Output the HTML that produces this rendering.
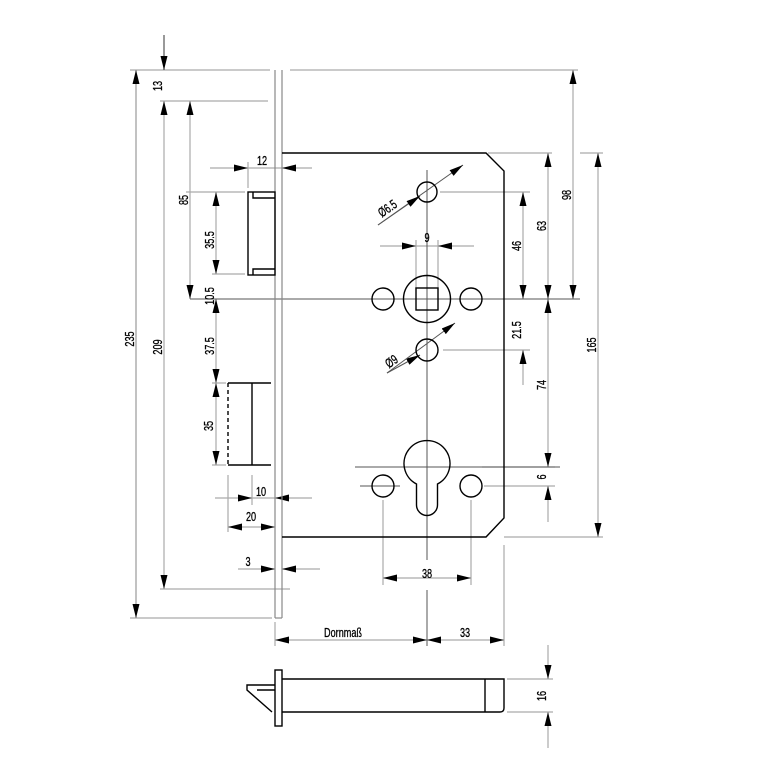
<!DOCTYPE html>
<html><head><meta charset="utf-8"><style>
html,body{margin:0;padding:0;background:#fff;}
svg{display:block}
text{font-family:"Liberation Sans",sans-serif;font-size:13px;fill:#000;stroke:#000;stroke-width:0.3;}
</style></head><body>
<svg width="768" height="768" viewBox="0 0 768 768" xmlns="http://www.w3.org/2000/svg">
<defs>
<marker id="a" viewBox="0 0 14 7" refX="14" refY="3.5" markerWidth="14" markerHeight="7" markerUnits="userSpaceOnUse" orient="auto-start-reverse">
<path d="M0,0 L14,3.5 L0,7 Z" fill="#000"/>
</marker>
</defs>
<g fill="none" stroke="#aaa" stroke-width="1.2">
<line x1="130" y1="70" x2="270" y2="70"/><line x1="290" y1="70" x2="578" y2="70"/>
<line x1="160" y1="101" x2="268" y2="101"/>
<line x1="130" y1="618" x2="272" y2="618"/>
<line x1="160" y1="589" x2="290" y2="589"/>
<line x1="186" y1="192" x2="245" y2="192"/>
<line x1="212" y1="274" x2="245" y2="274"/>
<line x1="212" y1="383" x2="226" y2="383"/>
<line x1="212" y1="465" x2="226" y2="465"/>
<line x1="488" y1="153" x2="552" y2="153"/><line x1="580" y1="153" x2="603" y2="153"/>
<line x1="440" y1="192" x2="530" y2="192"/>
<line x1="443" y1="350" x2="530" y2="350"/>
<line x1="504" y1="537" x2="603" y2="537"/>
<line x1="482" y1="467" x2="555" y2="467"/>
<line x1="484" y1="486" x2="555" y2="486"/>
<line x1="507" y1="679" x2="553" y2="679"/>
<line x1="507" y1="712" x2="553" y2="712"/>
<line x1="228" y1="475" x2="228" y2="532"/>
<line x1="252" y1="475" x2="252" y2="505"/>
<line x1="248" y1="162" x2="248" y2="188"/>
<line x1="383" y1="500" x2="383" y2="585"/>
<line x1="471" y1="500" x2="471" y2="585"/>
<line x1="416" y1="240" x2="416" y2="290"/>
<line x1="438" y1="240" x2="438" y2="290"/>
<line x1="275" y1="622" x2="275" y2="646"/>
<line x1="504" y1="545" x2="504" y2="646"/>
<line x1="136" y1="70" x2="136" y2="618" marker-start="url(#a)" marker-end="url(#a)" stroke="#999"/>
<line x1="164" y1="35" x2="164" y2="70" marker-end="url(#a)" stroke="#555"/>
<line x1="164" y1="101" x2="164" y2="589" marker-start="url(#a)" marker-end="url(#a)"/>
<line x1="190" y1="101" x2="190" y2="299" marker-start="url(#a)" marker-end="url(#a)"/>
<line x1="216" y1="192" x2="216" y2="274" marker-start="url(#a)" marker-end="url(#a)"/>
<line x1="216" y1="299" x2="216" y2="383" marker-start="url(#a)" marker-end="url(#a)"/>
<line x1="216" y1="383" x2="216" y2="465" marker-start="url(#a)" marker-end="url(#a)"/>
<line x1="210" y1="168" x2="248" y2="168" marker-end="url(#a)"/>
<line x1="248" y1="168" x2="282" y2="168"/>
<line x1="282" y1="168" x2="312" y2="168" marker-start="url(#a)"/>
<line x1="215" y1="498" x2="252" y2="498" marker-end="url(#a)"/>
<line x1="252" y1="498" x2="275" y2="498"/>
<line x1="275" y1="498" x2="312" y2="498" marker-start="url(#a)"/>
<line x1="228" y1="527" x2="275" y2="527" marker-start="url(#a)" marker-end="url(#a)"/>
<line x1="238" y1="569" x2="275" y2="569" marker-end="url(#a)"/>
<line x1="282" y1="569" x2="320" y2="569" marker-start="url(#a)"/>
<line x1="573" y1="70" x2="573" y2="299" marker-start="url(#a)" marker-end="url(#a)"/>
<line x1="598" y1="153" x2="598" y2="537" marker-start="url(#a)" marker-end="url(#a)"/>
<line x1="548" y1="153" x2="548" y2="299" marker-start="url(#a)" marker-end="url(#a)"/>
<line x1="548" y1="299" x2="548" y2="467" marker-start="url(#a)" marker-end="url(#a)"/>
<line x1="548" y1="486" x2="548" y2="522" marker-start="url(#a)"/>
<line x1="523" y1="192" x2="523" y2="299" marker-start="url(#a)" marker-end="url(#a)"/>
<line x1="523" y1="350" x2="523" y2="385" marker-start="url(#a)"/>
<line x1="548" y1="645" x2="548" y2="679" marker-end="url(#a)"/>
<line x1="548" y1="712" x2="548" y2="748" marker-start="url(#a)"/>
<line x1="380" y1="246" x2="416" y2="246" marker-end="url(#a)"/>
<line x1="416" y1="246" x2="438" y2="246"/>
<line x1="438" y1="246" x2="474" y2="246" marker-start="url(#a)"/>
<line x1="383" y1="578" x2="471" y2="578" marker-start="url(#a)" marker-end="url(#a)"/>
<line x1="275" y1="640" x2="427" y2="640" marker-start="url(#a)" marker-end="url(#a)"/>
<line x1="427" y1="640" x2="504" y2="640" marker-start="url(#a)" marker-end="url(#a)"/>
</g>
<g stroke="#555" stroke-width="1" fill="none">
<line x1="427" y1="170" x2="427" y2="560"/>
<line x1="427" y1="590" x2="427" y2="646"/>
<line x1="190" y1="299" x2="580" y2="299"/>
<line x1="355" y1="467" x2="560" y2="467"/>
<line x1="360" y1="486" x2="400" y2="486"/>
<line x1="378" y1="225" x2="463" y2="165" marker-end="url(#a)"/>
<line x1="378" y1="225" x2="420" y2="196" marker-end="url(#a)"/>
<line x1="387" y1="373" x2="420" y2="355" marker-end="url(#a)"/>
<line x1="387" y1="373" x2="455" y2="323" marker-end="url(#a)"/>
</g>
<g stroke="#888" stroke-width="1.2" fill="none">
<line x1="275" y1="70" x2="275" y2="618"/>
<line x1="282" y1="70" x2="282" y2="618"/>
<line x1="275" y1="618" x2="282" y2="618"/>
</g>
<g stroke="#000" stroke-width="1.4" fill="none">
<path d="M282,153 L486,153 L504,171 L504,518 L486,537 L282,537"/>
<circle cx="427" cy="299" r="23.5"/>
<rect x="416" y="288" width="22" height="22"/>
<circle cx="383" cy="299" r="11"/>
<circle cx="471" cy="299" r="11"/>
<circle cx="427" cy="192" r="10"/>
<circle cx="427" cy="350" r="11"/>
<path d="M416.5,484 A23,23 0 1 1 437.5,484 L437.5,505 A10.5,10.5 0 0 1 416.5,505 Z"/>
<circle cx="383" cy="486" r="11"/>
<circle cx="471" cy="486" r="11"/>
<rect x="248" y="192" width="27" height="83"/>
<path d="M253,192 V198 H275 M253,275 V269 H275"/>
<path d="M228,383 V465" stroke-dasharray="4,3"/>
<path d="M228,383 H271 M228,465 H271 M252,383 V465"/>
<rect x="275" y="670" width="7" height="56"/>
<path d="M282,679 H504 V708 Q504,712 500,712 H282 M485,679 V712"/>
<path d="M275,685 H247 V690 L272,712 M257,690 H275"/>
</g>
<g text-anchor="middle">
<text transform="translate(134,339) rotate(-90) scale(0.7,1)">235</text>
<text transform="translate(162,86) rotate(-90) scale(0.7,1)">13</text>
<text transform="translate(162,347) rotate(-90) scale(0.7,1)">209</text>
<text transform="translate(188,200) rotate(-90) scale(0.7,1)">85</text>
<text transform="translate(214,240) rotate(-90) scale(0.7,1)">35.5</text>
<text transform="translate(214,296) rotate(-90) scale(0.7,1)">10.5</text>
<text transform="translate(214,346) rotate(-90) scale(0.7,1)">37.5</text>
<text transform="translate(213,426) rotate(-90) scale(0.7,1)">35</text>
<text transform="translate(262,165) scale(0.7,1)">12</text>
<text transform="translate(261,496) scale(0.7,1)">10</text>
<text transform="translate(251,521) scale(0.7,1)">20</text>
<text transform="translate(248,566) scale(0.7,1)">3</text>
<text transform="translate(571,195) rotate(-90) scale(0.7,1)">98</text>
<text transform="translate(596,345) rotate(-90) scale(0.7,1)">165</text>
<text transform="translate(546,226) rotate(-90) scale(0.7,1)">63</text>
<text transform="translate(521,246) rotate(-90) scale(0.7,1)">46</text>
<text transform="translate(521,330) rotate(-90) scale(0.7,1)">21.5</text>
<text transform="translate(546,385) rotate(-90) scale(0.7,1)">74</text>
<text transform="translate(546,477) rotate(-90) scale(0.7,1)">6</text>
<text transform="translate(546,696) rotate(-90) scale(0.7,1)">16</text>
<text transform="translate(427,242) scale(0.7,1)">9</text>
<text transform="translate(427,578) scale(0.7,1)">38</text>
<text transform="translate(343,637) scale(0.7,1)">Dornmaß</text>
<text transform="translate(465,637) scale(0.7,1)">33</text>
<text transform="translate(390,212) rotate(-35) scale(0.7,1)">Ø6.5</text>
<text transform="translate(394,365) rotate(-35) scale(0.7,1)">Ø9</text>
</g>
</svg>
</body></html>
